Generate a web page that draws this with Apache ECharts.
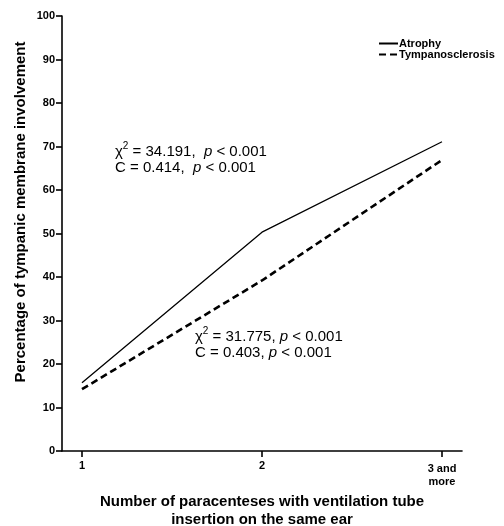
<!DOCTYPE html>
<html>
<head>
<meta charset="utf-8">
<script src="https://cdn.jsdelivr.net/npm/echarts@6/dist/echarts.min.js"></script>
<style>
html,body{margin:0;padding:0;background:#fff;overflow:hidden;width:100%;height:100%;}
#chart{position:fixed;left:0;top:0;width:504px;height:526px;}
</style>
</head>
<body>
<div id="chart"></div>
<script>
// ---- data ----
var xValues = [1, 2, 3];
var xTickLabels = {1: '1', 2: '2', 3: '3 and\nmore'};
var atrophy = [15.7, 50.3, 71.1];
var tympanosclerosis = [14.2, 39.2, 66.9];
var seriesNames = ['Atrophy', 'Tympanosclerosis'];

var FONT = '"Liberation Sans", Arial, Helvetica, sans-serif';

function pairs(vals) {
  return xValues.map(function (x, i) { return [x, vals[i]]; });
}

var chart = echarts.init(document.getElementById('chart'), null, {renderer: 'canvas', width: 504, height: 526});

var annoRich = {
  t: {fontFamily: FONT, fontSize: 15, lineHeight: 15.5, fill: '#000'},
  i: {fontFamily: FONT, fontSize: 15, lineHeight: 15.5, fontStyle: 'italic', fill: '#000'},
  s: {fontFamily: FONT, fontSize: 10, lineHeight: 15.5, padding: [0, 0, 13, 0], fill: '#000'}
};

var option = {
  animation: false,
  backgroundColor: '#ffffff',
  textStyle: {fontFamily: FONT},
  grid: {left: 62, right: 42, top: 16, bottom: 75, containLabel: false, outerBoundsMode: 'none'},
  legend: {
    orient: 'vertical',
    left: 378,
    top: 38,
    padding: 0,
    itemGap: 0,
    itemWidth: 19,
    itemHeight: 8,
    data: seriesNames,
    itemStyle: {opacity: 0},
    textStyle: {fontFamily: FONT, fontSize: 11, fontWeight: 'bold', color: '#000', lineHeight: 10, padding: [0, 0, 0, -4]}
  },
  xAxis: {
    type: 'value',
    min: 0.889,
    max: 3.111,
    splitLine: {show: false},
    axisLine: {lineStyle: {color: '#000', width: 1.6}},
    axisTick: {show: true, length: 6, customValues: xValues, lineStyle: {color: '#000', width: 1.6}},
    axisLabel: {
      customValues: xValues,
      margin: 8,
      fontFamily: FONT, fontSize: 11, fontWeight: 'bold', color: '#000', lineHeight: 13,
      formatter: function (v) {
        var k = Math.round(v);
        if (k === 3) { return '{m|' + xTickLabels[k].split('\n').join('}\n{m|') + '}'; }
        return xTickLabels[k] || '';
      },
      rich: {
        m: {fontFamily: FONT, fontSize: 11, fontWeight: 'bold', color: '#000', lineHeight: 13, padding: [6, 0, 0, 0]}
      }
    },
    name: 'Number of paracenteses with ventilation tube\ninsertion on the same ear',
    nameLocation: 'middle',
    nameGap: 42,
    nameTextStyle: {fontFamily: FONT, fontSize: 15, fontWeight: 'bold', color: '#000', lineHeight: 18}
  },
  yAxis: {
    type: 'value',
    min: 0,
    max: 100,
    interval: 10,
    splitLine: {show: false},
    axisLine: {show: true, lineStyle: {color: '#000', width: 1.6}},
    axisTick: {show: true, length: 6, lineStyle: {color: '#000', width: 1.6}},
    axisLabel: {margin: 7, fontFamily: FONT, fontSize: 11, fontWeight: 'bold', color: '#000'}
  },
  graphic: [
    {
      type: 'text',
      x: 21, y: 212,
      rotation: Math.PI / 2,
      style: {
        text: 'Percentage of tympanic membrane involvement',
        font: 'bold 15px ' + FONT,
        fill: '#000',
        align: 'center',
        verticalAlign: 'middle'
      }
    },
    {
      type: 'text',
      x: 115, y: 160,
      style: {
        text: '{t|χ}{s|2}{t| = 34.191,  }{i|p}{t| < 0.001}\n{t|C = 0.414,  }{i|p}{t| < 0.001}',
        align: 'left',
        verticalAlign: 'middle',
        fill: '#000',
        rich: annoRich
      }
    },
    {
      type: 'text',
      x: 195, y: 345,
      style: {
        text: '{t|χ}{s|2}{t| = 31.775, }{i|p}{t| < 0.001}\n{t|C = 0.403, }{i|p}{t| < 0.001}',
        align: 'left',
        verticalAlign: 'middle',
        fill: '#000',
        rich: annoRich
      }
    }
  ],
  series: [
    {
      name: seriesNames[0],
      type: 'line',
      data: pairs(atrophy),
      symbol: 'none',
      lineStyle: {color: '#000', width: 1.3, type: 'solid'},
      itemStyle: {color: '#000'}
    },
    {
      name: seriesNames[1],
      type: 'line',
      data: pairs(tympanosclerosis),
      symbol: 'none',
      lineStyle: {color: '#000', width: 2.6, type: [7, 4]},
      itemStyle: {color: '#000'}
    }
  ]
};

chart.setOption(option);
</script>
</body>
</html>
